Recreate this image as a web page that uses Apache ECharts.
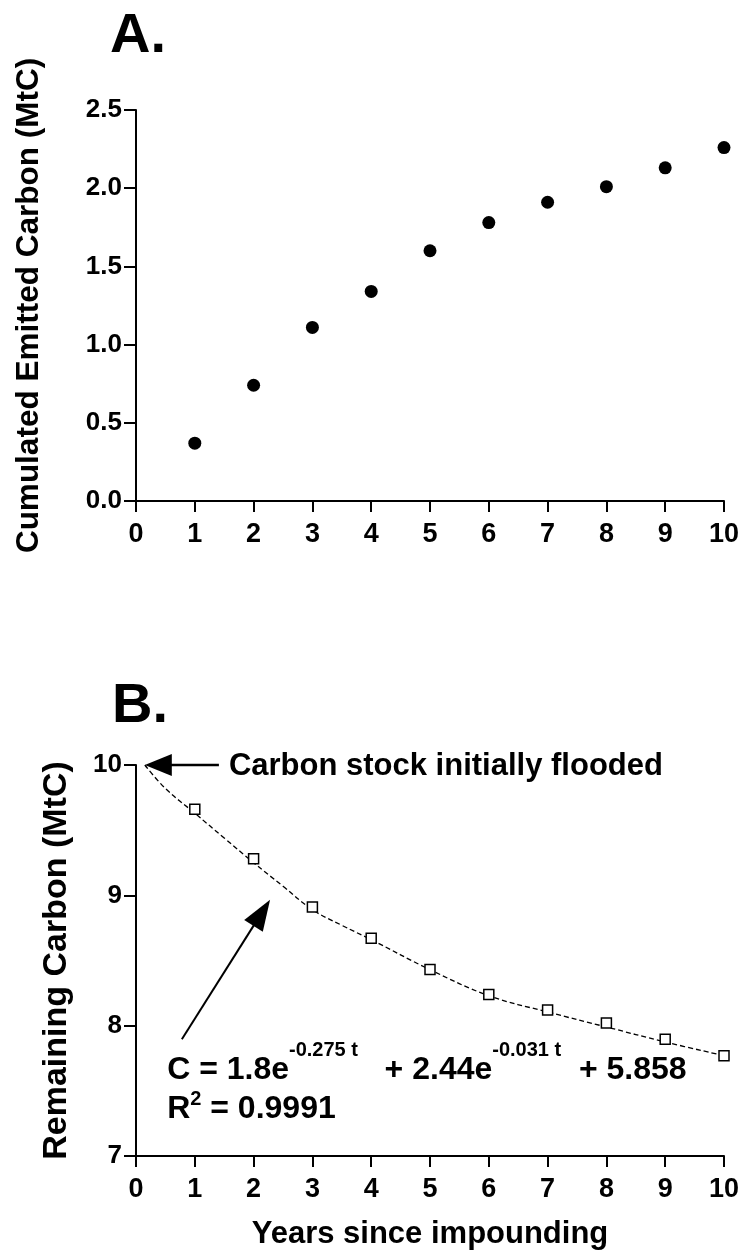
<!DOCTYPE html>
<html><head><meta charset="utf-8">
<script src="https://cdn.jsdelivr.net/npm/echarts@6/dist/echarts.min.js"></script>
<style>html,body{margin:0;padding:0;background:#fff}#c{width:744px;height:1251px}</style>
</head><body><div id="c"></div>
<script>
// ---- data ----
const years = [1, 2, 3, 4, 5, 6, 7, 8, 9, 10];
const emitted = [0.37, 0.74, 1.11, 1.34, 1.60, 1.78, 1.91, 2.01, 2.13, 2.26];
const remaining = [9.66, 9.28, 8.91, 8.67, 8.43, 8.24, 8.12, 8.02, 7.895, 7.77];
const fitT = [0.15, 0.5, 1, 1.5, 2, 2.5, 3, 3.5, 4, 5, 6, 7, 8, 9, 10];
const fitC = [10.0, 9.82, 9.63, 9.44, 9.25, 9.07, 8.89, 8.77, 8.66, 8.43, 8.23, 8.105, 7.99, 7.875, 7.77];
const xTickLabels = ['0','1','2','3','4','5','6','7','8','9','10'];
const topYTickLabels = ['0.0','0.5','1.0','1.5','2.0','2.5'];
const botYTickLabels = ['7','8','9','10'];
const titleA = 'A.';
const titleB = 'B.';
const topYName = 'Cumulated Emitted Carbon (MtC)';
const botYName = 'Remaining Carbon (MtC)';
const botXName = 'Years since impounding';
const note1 = 'Carbon stock initially flooded';
const eqText = 'C = 1.8e{s|-0.275 t}   + 2.44e{s|-0.031 t}  + 5.858';
const r2Text = 'R{s|2} = 0.9991';
// annotation anchors (data space of panel B)
const arrow1 = { from: [1.41, 10.0], to: [0.15, 10.0] };
const arrow2 = { from: [0.78, 7.896], to: [2.28, 8.967] };
const note1Pos = [1.58, 10.0];
const eqPos = [0.53, 7.658];
const r2Pos = [0.53, 7.356];

const FF = '"Liberation Sans", Arial, Helvetica, sans-serif';
const chart = echarts.init(document.getElementById('c'), null, { renderer: 'canvas' });

function xAxisCfg(gi, extra) {
  return Object.assign({
    gridIndex: gi, type: 'value', min: 0, max: 10, interval: 1,
    axisLine: { show: true, onZero: false, lineStyle: { color: '#000', width: 2 } },
    axisTick: { show: true, length: 11, lineStyle: { color: '#000', width: 2 } },
    axisLabel: { fontSize: 27, fontWeight: 'bold', color: '#000', fontFamily: FF, margin: 20,
      formatter: v => xTickLabels[Math.round(v)] },
    splitLine: { show: false }
  }, extra || {});
}
function yAxisCfg(gi, min, max, interval, labels, extra) {
  return Object.assign({
    gridIndex: gi, type: 'value', min: min, max: max, interval: interval,
    axisLine: { show: true, onZero: false, lineStyle: { color: '#000', width: 2 } },
    axisTick: { show: true, length: 12, lineStyle: { color: '#000', width: 2 } },
    axisLabel: { fontSize: 26, fontWeight: 'bold', color: '#000', fontFamily: FF, margin: 14,
      formatter: v => labels[Math.round((v - min) / interval)] },
    splitLine: { show: false },
    nameLocation: 'middle'
  }, extra || {});
}

chart.setOption({
  animation: false,
  backgroundColor: '#fff',
  grid: [
    { left: 136, width: 588, top: 110, height: 391 },
    { left: 136, width: 588, top: 765, height: 392 }
  ],
  xAxis: [
    xAxisCfg(0),
    xAxisCfg(1, { name: botXName, nameLocation: 'middle', nameGap: 63,
      nameTextStyle: { fontSize: 31, fontWeight: 'bold', color: '#000', fontFamily: FF } })
  ],
  yAxis: [
    yAxisCfg(0, 0, 2.5, 0.5, topYTickLabels, { name: topYName, nameGap: 91,
      nameTextStyle: { fontSize: 31.5, fontWeight: 'bold', color: '#000', fontFamily: FF } }),
    yAxisCfg(1, 7, 10, 1, botYTickLabels, { name: botYName, nameGap: 62,
      nameTextStyle: { fontSize: 34, fontWeight: 'bold', color: '#000', fontFamily: FF } })
  ],
  series: [
    { type: 'scatter', xAxisIndex: 0, yAxisIndex: 0, symbol: 'circle', symbolSize: 13,
      itemStyle: { color: '#000', opacity: 1 }, data: years.map((x, i) => [x, emitted[i]]) },
    { type: 'line', xAxisIndex: 1, yAxisIndex: 1, smooth: 0.4, showSymbol: false, symbol: 'none',
      lineStyle: { color: '#000', width: 1.3, type: [5, 3] }, data: fitT.map((t, i) => [t, fitC[i]]), z: 2 },
    { type: 'scatter', xAxisIndex: 1, yAxisIndex: 1, symbol: 'rect', symbolSize: 10,
      itemStyle: { color: '#fff', borderColor: '#000', borderWidth: 1.5, opacity: 1 },
      data: years.map((x, i) => [x, remaining[i]]), z: 3 }
  ]
});

function px(p) { return chart.convertToPixel({ gridIndex: 1 }, p); }
function arrowGraphics(a, headLen, headHalf, lw) {
  const f = px(a.from), t = px(a.to);
  const dx = t[0] - f[0], dy = t[1] - f[1];
  const L = Math.sqrt(dx * dx + dy * dy);
  const ux = dx / L, uy = dy / L;
  const bx = t[0] - ux * headLen, by = t[1] - uy * headLen;
  const nx = -uy, ny = ux;
  return [
    { type: 'line', shape: { x1: f[0], y1: f[1], x2: bx + ux * 2, y2: by + uy * 2 },
      style: { stroke: '#000', lineWidth: lw }, z: 10 },
    { type: 'polygon', shape: { points: [[t[0], t[1]], [bx + nx * headHalf, by + ny * headHalf], [bx - nx * headHalf, by - ny * headHalf]] },
      style: { fill: '#000' }, z: 10 }
  ];
}
const n1 = px(note1Pos), eq = px(eqPos), r2 = px(r2Pos);
const supStyle = { fontSize: 20, fontWeight: 'bold', fontFamily: FF, fill: '#000', lineHeight: 20, verticalAlign: 'top' };
const g = [
  { type: 'text', x: 110, y: 37, style: { text: titleA, font: 'bold 56px ' + FF, fill: '#000', align: 'left', verticalAlign: 'middle' } },
  { type: 'text', x: 112, y: 707, style: { text: titleB, font: 'bold 56px ' + FF, fill: '#000', align: 'left', verticalAlign: 'middle' } },
  { type: 'text', x: n1[0], y: n1[1] + 1, style: { text: note1, font: 'bold 31px ' + FF, fill: '#000', align: 'left', verticalAlign: 'middle' }, z: 10 },
  { type: 'text', x: eq[0], y: eq[1], z: 10, style: {
      text: eqText, font: 'bold 32px ' + FF, fill: '#000', align: 'left', verticalAlign: 'middle', lineHeight: 60,
      rich: { s: supStyle } } },
  { type: 'text', x: r2[0], y: r2[1], z: 10, style: {
      text: r2Text, font: 'bold 32px ' + FF, fill: '#000', align: 'left', verticalAlign: 'middle', lineHeight: 41,
      rich: { s: supStyle } } }
].concat(arrowGraphics(arrow1, 27, 11, 2.6), arrowGraphics(arrow2, 31, 11, 2));
chart.setOption({ graphic: g });
</script>
</body></html>
